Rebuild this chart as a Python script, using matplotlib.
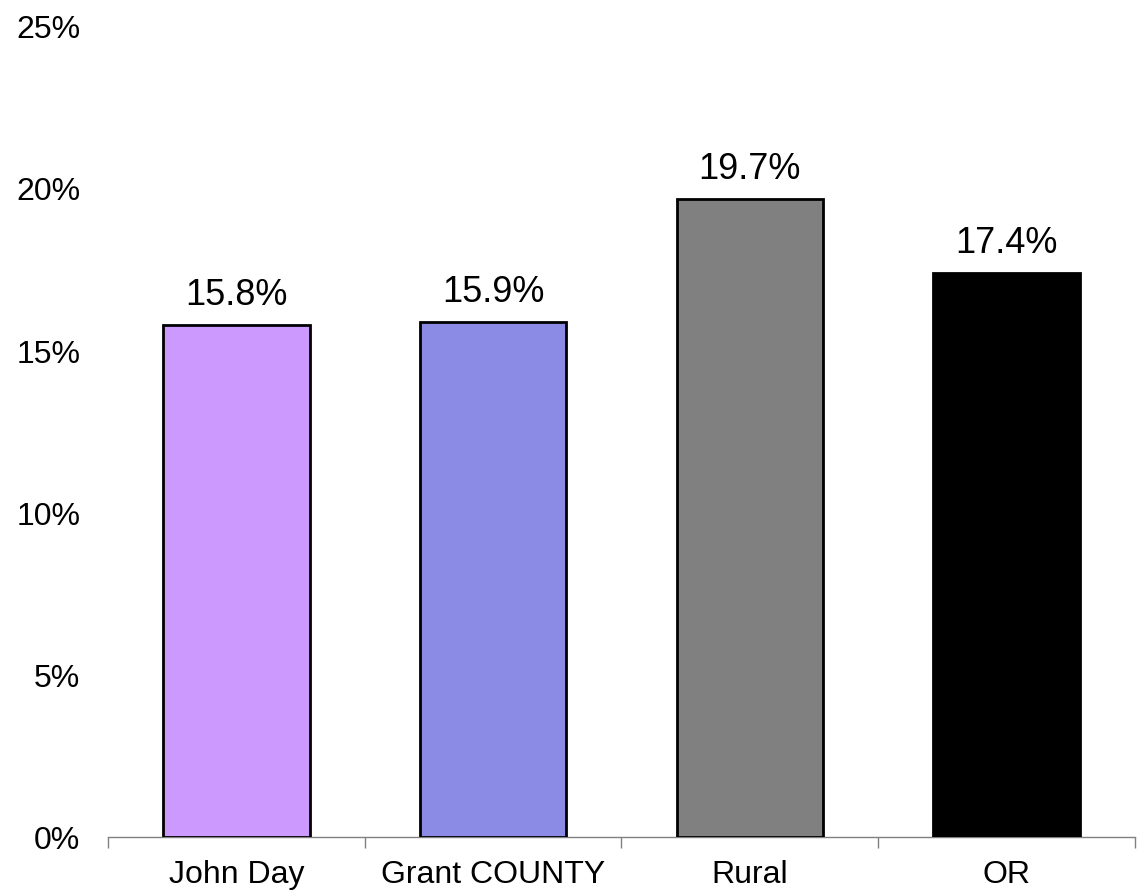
import numpy as np
import matplotlib.pyplot as plt
from matplotlib.ticker import FixedLocator, PercentFormatter

plt.rcParams['font.family'] = ['Liberation Sans', 'DejaVu Sans']

categories = ["John Day", "Grant COUNTY", "Rural", "OR"]
values = [15.8, 15.9, 19.7, 17.4]
colors = ["#CC99FF", "#8B8BE6", "#808080", "#000000"]

fig = plt.figure(figsize=(11.4, 8.91), dpi=100)
ax = fig.add_axes([0.0947, 0.0606, 0.9009, 0.9091])

x = np.arange(len(categories))
bars = ax.bar(x, values, width=0.57, color=colors, edgecolor="black", linewidth=2, zorder=3)

for xi, v in zip(x, values):
    ax.annotate(f"{v:.1f}%", (xi, v), xytext=(0, 8.5), textcoords="offset points",
                ha="center", va="bottom", fontsize=26)

ax.set_xlim(-0.5, len(categories) - 0.5)
ax.set_ylim(0, 25)
ax.set_yticks([0, 5, 10, 15, 20, 25])
ax.yaxis.set_major_formatter(PercentFormatter(decimals=0))
ax.tick_params(axis="y", length=0, labelsize=23, pad=20)

ax.set_xticks(x)
ax.set_xticklabels(categories)
ax.xaxis.set_minor_locator(FixedLocator(np.arange(-0.5, len(categories), 1.0)))
ax.tick_params(axis="x", which="major", length=0, labelsize=23, pad=16.5)
ax.tick_params(axis="x", which="minor", length=8, width=1, color="#808080", direction="out")

for s in ["top", "right", "left"]:
    ax.spines[s].set_visible(False)
ax.spines["bottom"].set_color("#808080")
ax.spines["bottom"].set_linewidth(1)

fig.savefig("out.png", dpi=100)
